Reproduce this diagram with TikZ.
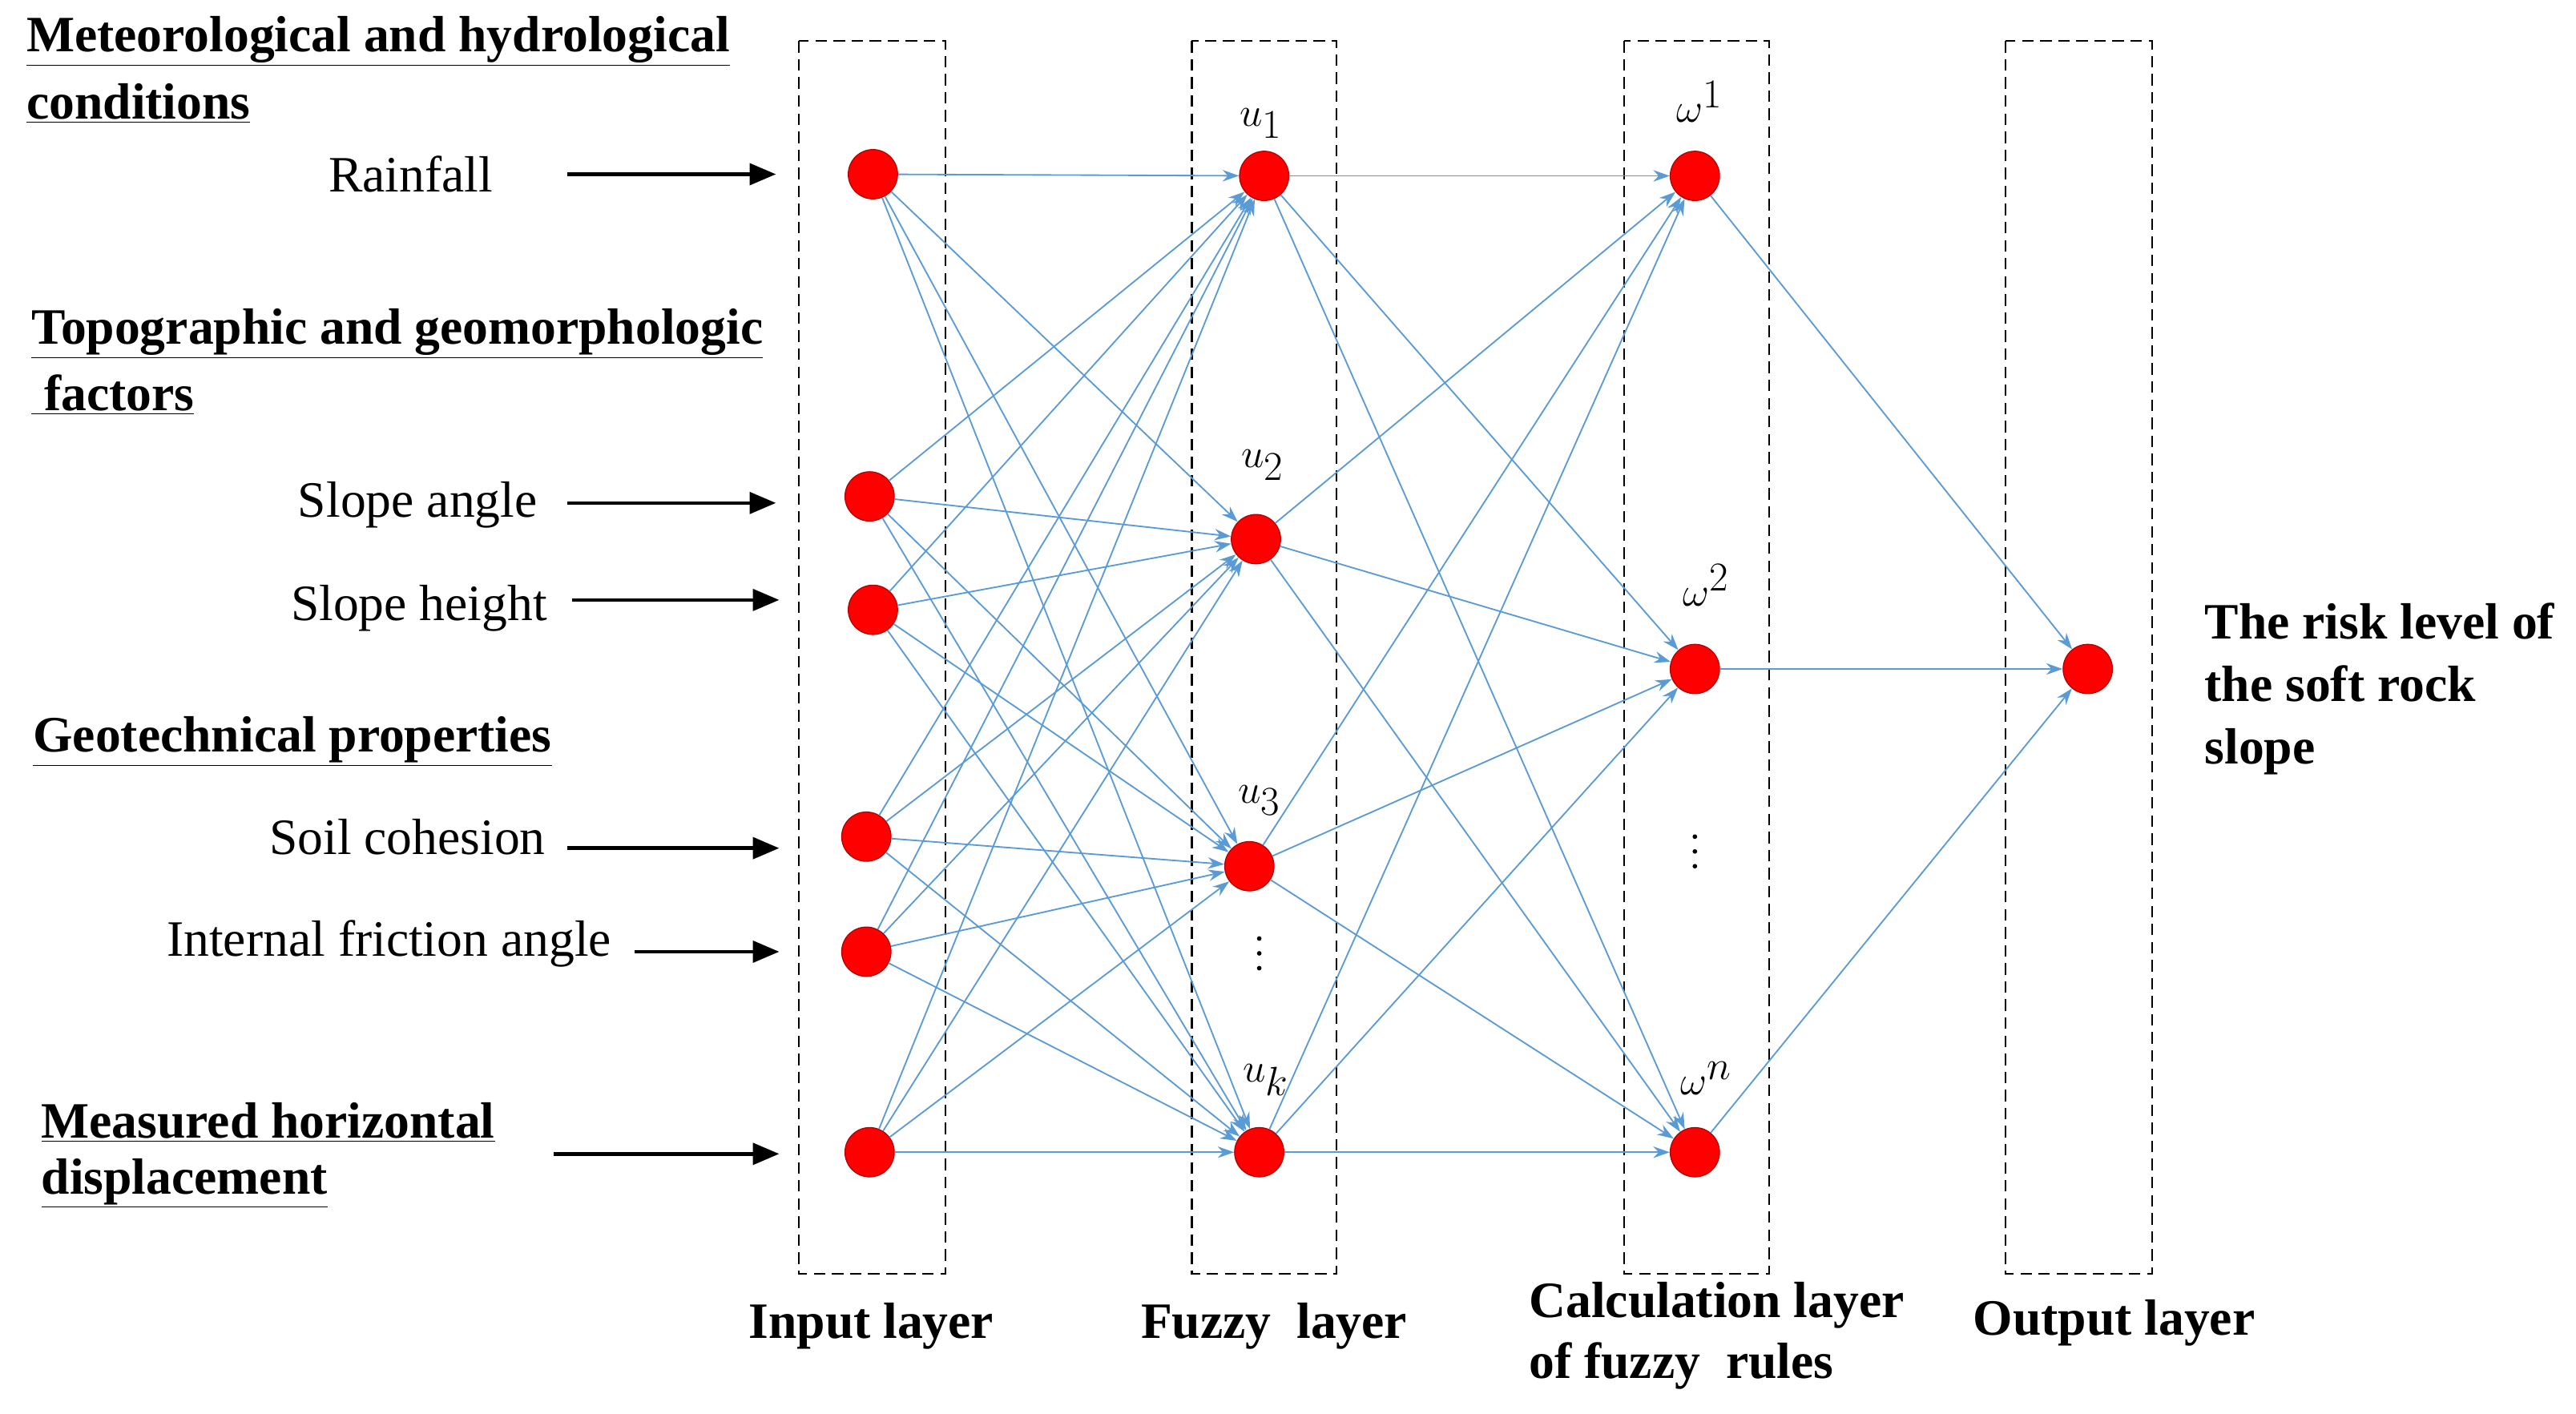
\documentclass[tikz,border=0pt]{standalone}
\usepackage{fontspec}
\setmainfont{Liberation Serif}
\usetikzlibrary{arrows.meta}
\definecolor{lb}{RGB}{91,155,213}
\begin{document}
\begin{tikzpicture}[x=1pt,y=-1pt,
  nd/.style={circle,fill=red,draw=red!70!black,line width=0.6pt,minimum size=30pt,inner sep=0pt},
  box/.style={draw,dash pattern=on 7pt off 4pt,line width=1pt},
  con/.style={lb,line width=0.9pt,-{Stealth[length=10pt,width=7pt]}},
  inar/.style={line width=2.2pt,-{Triangle[length=16pt,width=13pt]}},
  txt/.style={font=\fontsize{31}{38}\selectfont,inner sep=0pt},
  hd/.style={font=\fontsize{31}{38}\selectfont\bfseries,inner sep=0pt,align=left},
  lab/.style={font=\fontsize{34}{38}\selectfont,inner sep=0pt}]
\useasboundingbox (0,0) rectangle (1567,860);
\draw[box] (486,25) rectangle (575,775);
\draw[box] (725,25) rectangle (813,775);
\draw[box] (988,25) rectangle (1076,775);
\draw[box] (1220,25) rectangle (1309,775);
\node[nd] (i1) at (531,106) {};
\node[nd] (i2) at (529,302) {};
\node[nd] (i3) at (531,371) {};
\node[nd] (i4) at (527,509) {};
\node[nd] (i5) at (527,579) {};
\node[nd] (i6) at (529,701) {};
\node[nd] (f1) at (769,107) {};
\node[nd] (f2) at (764,328) {};
\node[nd] (f3) at (760,527) {};
\node[nd] (f4) at (766,701) {};
\node[nd] (r1) at (1031,107) {};
\node[nd] (r2) at (1031,407) {};
\node[nd] (r3) at (1031,701) {};
\node[nd] (o) at (1270,407) {};
\foreach \i in {1,...,6}{\foreach \f in {1,...,4}{\draw[con] (i\i) -- (f\f);}}
\foreach \f in {1,...,4}{\foreach \r in {1,2,3}{\draw[con] (f\f) -- (r\r);}}
\foreach \r in {1,2,3}{\draw[con] (r\r) -- (o);}
\coordinate (a1) at (345,106); \coordinate (b1) at (472,106);
\coordinate (a2) at (345,306); \coordinate (b2) at (472,306);
\coordinate (a3) at (348,365); \coordinate (b3) at (474,365);
\coordinate (a4) at (345,516); \coordinate (b4) at (474,516);
\coordinate (a5) at (386,579); \coordinate (b5) at (474,579);
\coordinate (a6) at (337,702); \coordinate (b6) at (474,702);
\foreach \k in {1,...,6}{\draw[inar] (a\k) -- (b\k);}
\node[txt,anchor=east] (t1) at (300,106) {Rainfall};
\node[txt,anchor=east] (t2) at (327,307) {Slope angle};
\node[txt,anchor=east] (t3) at (333,370) {Slope height};
\node[txt,anchor=east] (t4) at (332,509) {Soil cohesion};
\node[txt,anchor=east] (t5) at (372,574) {Internal friction angle};
\node[hd,anchor=west] (h1a) at (16,25) {\underline{Meteorological and hydrological}};
\node[hd,anchor=west] (h1b) at (16,63) {\underline{conditions}};
\node[hd,anchor=west] (h2a) at (19,203) {\underline{Topographic and geomorphologic}};
\node[hd,anchor=west] (h2b) at (19,240) {\underline{~factors}};
\node[hd,anchor=west] (h3) at (20,451) {\underline{Geotechnical properties}};
\node[hd,anchor=west] (h4a) at (25,683) {\underline{Measured horizontal}};
\node[hd,anchor=west] (h4b) at (25,720) {\underline{displacement}};
\node[hd] (l1) at (530,807) {Input layer};
\node[hd] (l2) at (775,807) {Fuzzy\ \ layer};
\node[hd,anchor=west] (l3a) at (930,794) {Calculation layer};
\node[hd,anchor=west] (l3b) at (930,831) {of fuzzy\ \ rules};
\node[hd] (l4) at (1286,805) {Output layer};
\node[hd,anchor=west] (out) at (1341,419) {The risk level of\\the soft rock\\slope};
\node[lab] (u1) at (767,75) {$u_1$};
\node[lab] (u2) at (768,283) {$u_2$};
\node[lab] (u3) at (766,487) {$u_3$};
\node[lab] (uk) at (770,657) {$u_k$};
\node[lab] (w1) at (1034,62) {$\omega^1$};
\node[lab] (w2) at (1038,356) {$\omega^2$};
\node[lab] (wn) at (1038,656) {$\omega^n$};
\foreach \y in {-9,0,9}{\fill (766,580+\y) circle (1.4pt); \fill (1031,518+\y) circle (1.4pt);}
\end{tikzpicture}
\end{document}
